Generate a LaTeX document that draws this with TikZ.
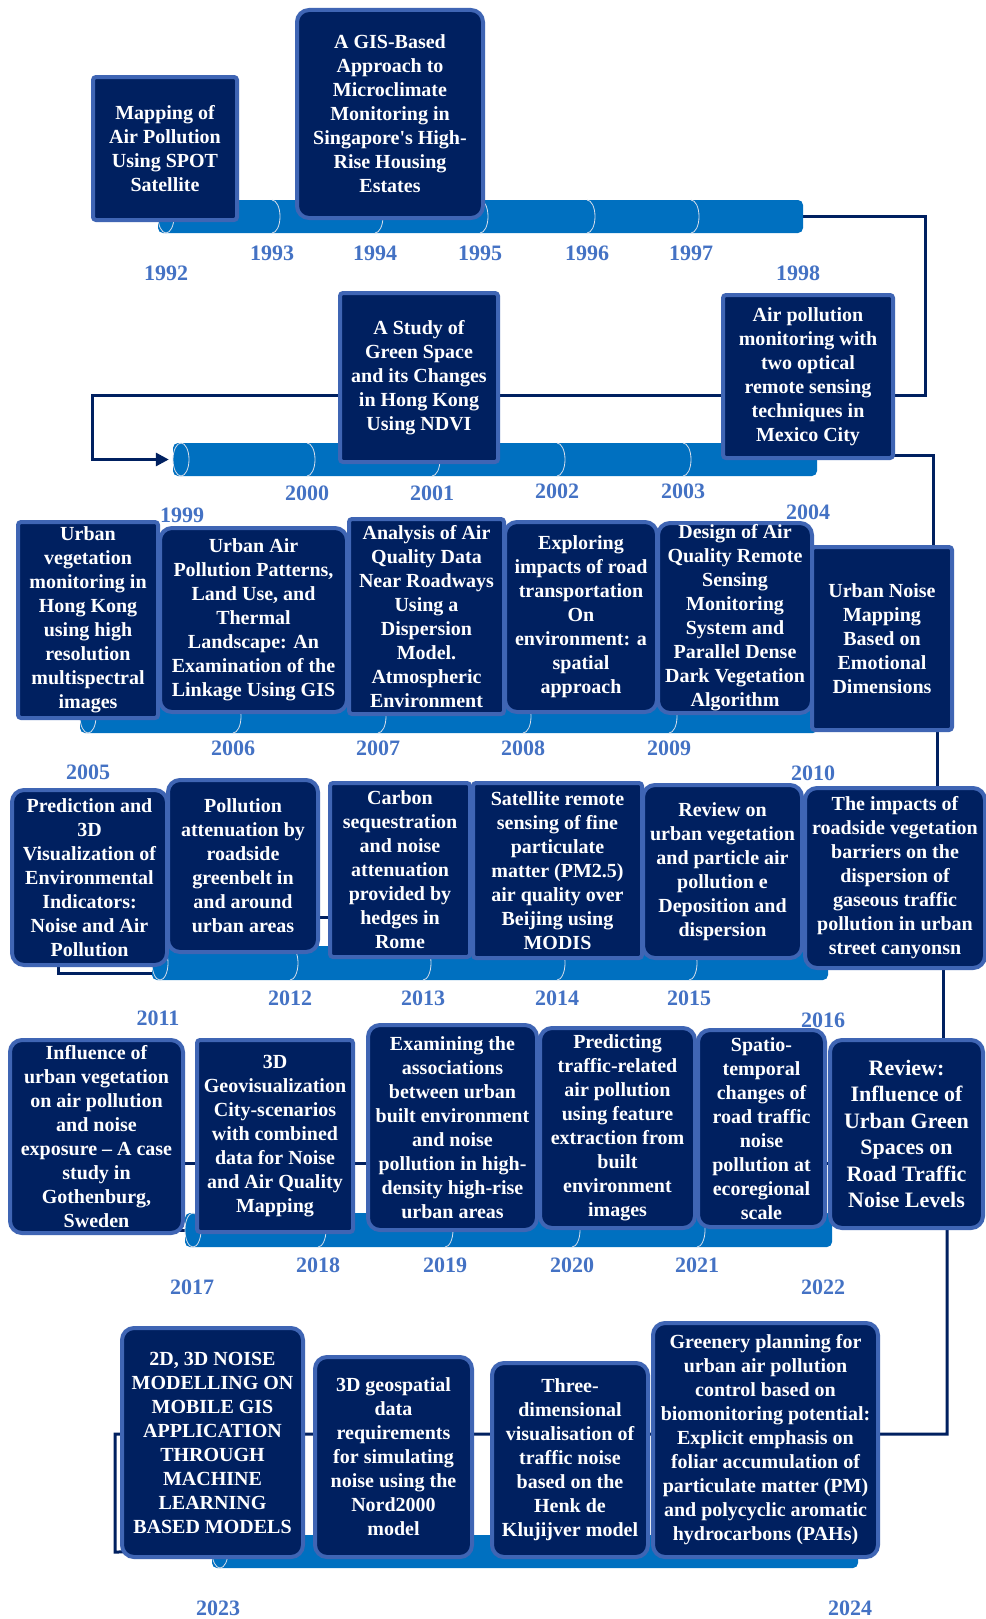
\documentclass[tikz,border=0pt]{standalone}
\usepackage{fontspec}
\setmainfont{Liberation Serif}
\usetikzlibrary{arrows.meta,backgrounds,calc}

\definecolor{navy}{RGB}{0,32,96}
\definecolor{cardedge}{RGB}{63,101,180}
\definecolor{barblue}{RGB}{0,112,192}
\definecolor{yearblue}{RGB}{68,114,196}
\definecolor{seamgray}{RGB}{215,222,235}

\begin{document}
\begin{tikzpicture}[x=1pt, y=-1pt,
		card/.style={draw=cardedge, fill=navy, line width=4pt, rounded corners=3pt, inner sep=0pt, align=center, text=white, font=\fontsize{20}{24}\selectfont\bfseries},
		soft/.style={rounded corners=12pt},
		yr/.style={text=yearblue, font=\fontsize{22}{26}\selectfont\bfseries},
		timebar/.style={fill=barblue, rounded corners=5pt, inner sep=0pt},
		seam/.style={draw=seamgray, line width=0.8pt},
		linkline/.style={draw=navy, line width=3pt}]
		\useasboundingbox (0,0) rectangle (985,1619);

		% the six bars
		\node[timebar, minimum width=645pt, minimum height=33pt] (bar1) at (480.5,216.5) {};
		\node[timebar, minimum width=644pt, minimum height=33pt] (bar2) at (495,459.5) {};
		\node[timebar, minimum width=738pt, minimum height=33pt] (bar3) at (449,716.5) {};
		\node[timebar, minimum width=676pt, minimum height=34pt] (bar4) at (490,963) {};
		\node[timebar, minimum width=647pt, minimum height=34pt] (bar5) at (508.5,1230) {};
		\node[timebar, minimum width=646pt, minimum height=33pt] (bar6) at (535,1551.5) {};

		\draw[seam, fill=barblue] (166,216.5) ellipse [x radius=8, y radius=16.5];
		\draw[seam, fill=barblue] (181,459.5) ellipse [x radius=8, y radius=16.5];
		\draw[seam, fill=barblue] (88,716.5) ellipse [x radius=8, y radius=16.5];
		\draw[seam, fill=barblue] (160,963) ellipse [x radius=8, y radius=17];
		\draw[seam, fill=barblue] (193,1230) ellipse [x radius=8, y radius=17];
		\draw[seam, fill=barblue] (220,1551.5) ellipse [x radius=8, y radius=16.5];

		\foreach \x in {272,375,480,587,691}
			\draw[seam] (\x,200) arc[start angle=-90, end angle=90, x radius=8, y radius=16.5];
		\foreach \x in {307,432,557,683}
			\draw[seam] (\x,443) arc[start angle=-90, end angle=90, x radius=8, y radius=16.5];
		\foreach \x in {233,378,523,669}
			\draw[seam] (\x,700) arc[start angle=-90, end angle=90, x radius=8, y radius=16.5];
		\foreach \x in {290,423,557,689}
			\draw[seam] (\x,946) arc[start angle=-90, end angle=90, x radius=8, y radius=17];
		\foreach \x in {318,445,572,697}
			\draw[seam] (\x,1213) arc[start angle=-90, end angle=90, x radius=8, y radius=17];

		% row 1
		\node[card, minimum width=144pt, minimum height=143pt] (b1992) at (165,148.5) {Mapping of\\Air Pollution\\Using SPOT\\Satellite};
		\node[card, soft, minimum width=186pt, minimum height=208pt] (b1994) at (390,114) {A GIS-Based\\Approach to\\Microclimate\\Monitoring in\\Singapore\textquotesingle s High-\\Rise Housing\\Estates};

		% row 2
		\node[card, minimum width=158pt, minimum height=169pt] (b2001) at (419,377.5) {A Study of\\Green Space\\and its Changes\\in Hong Kong\\Using NDVI};
		\node[card, minimum width=170pt, minimum height=163pt] (b1998) at (808,376.5) {Air pollution\\monitoring with\\two optical\\remote sensing\\techniques in\\Mexico City};

		% row 3
		\node[card, minimum width=140pt, minimum height=196pt] (b2005) at (88,620) {Urban\\vegetation\\monitoring in\\Hong Kong\\using high\\resolution\\multispectral\\images};
		\node[card, soft, minimum width=187pt, minimum height=184pt] (b2006) at (253.5,620) {Urban Air\\Pollution Patterns,\\Land Use, and\\Thermal\\Landscape: An\\Examination of the\\Linkage Using GIS};
		\node[card, minimum width=155pt, minimum height=195pt] (b2007) at (426.5,616.5) {Analysis of Air\\Quality Data\\Near Roadways\\Using a\\Dispersion\\Model.\\Atmospheric\\Environment};
		\node[card, soft, minimum width=152pt, minimum height=190pt] (b2008) at (581,617) {Exploring\\impacts of road\\transportation\\On\\environment: a\\spatial\\approach};
		\node[card, soft, minimum width=154pt, minimum height=190pt] (b2009) at (735,618) {Design of Air\\Quality Remote\\Sensing\\Monitoring\\System and\\Parallel Dense\\Dark Vegetation\\Algorithm};
		\node[card, minimum width=140pt, minimum height=183pt] (b2010) at (882,638.5) {Urban Noise\\Mapping\\Based on\\Emotional\\Dimensions};

		% row 4
		\node[card, soft, minimum width=155pt, minimum height=175pt] (b2011) at (89.5,877.5) {Prediction and\\3D\\Visualization of\\Environmental\\Indicators:\\Noise and Air\\Pollution};
		\node[card, soft, minimum width=150pt, minimum height=172pt] (b2012) at (243,866) {Pollution\\attenuation by\\roadside\\greenbelt in\\and around\\urban areas};
		\node[card, minimum width=140pt, minimum height=174pt] (b2013) at (400,870) {Carbon\\sequestration\\and noise\\attenuation\\provided by\\hedges in\\Rome};
		\node[card, minimum width=169pt, minimum height=175pt] (b2014) at (557.5,870.5) {Satellite remote\\sensing of fine\\particulate\\matter (PM2.5)\\air quality over\\Beijing using\\MODIS};
		\node[card, soft, minimum width=159pt, minimum height=173pt] (b2015) at (722.5,871.5) {Review on\\urban vegetation\\and particle air\\pollution e\\Deposition and\\dispersion};
		\node[card, soft, minimum width=180pt, minimum height=180pt] (b2016) at (895,878) {The impacts of\\roadside vegetation\\barriers on the\\dispersion of\\gaseous traffic\\pollution in urban\\street canyonsn};

		% row 5
		\node[card, soft, minimum width=173pt, minimum height=193pt] (b2017) at (96.5,1136.5) {Influence of\\urban vegetation\\on air pollution\\and noise\\exposure -- A case\\study in\\Gothenburg,\\Sweden};
		\node[card, minimum width=156pt, minimum height=192pt] (b2018) at (275,1136) {3D\\Geovisualization\\City-scenarios\\with combined\\data for Noise\\and Air Quality\\Mapping};
		\node[card, soft, minimum width=169pt, minimum height=205pt] (b2019) at (452.5,1127.5) {Examining the\\associations\\between urban\\built environment\\and noise\\pollution in high-\\density high-rise\\urban areas};
		\node[card, soft, minimum width=155pt, minimum height=200pt] (b2020) at (617.5,1128) {Predicting\\traffic-related\\air pollution\\using feature\\extraction from\\built\\environment\\images};
		\node[card, soft, minimum width=127pt, minimum height=197pt] (b2021) at (761.5,1128.5) {Spatio-\\temporal\\changes of\\road traffic\\noise\\pollution at\\ecoregional\\scale};
		\node[card, soft, minimum width=153pt, minimum height=188pt, font=\fontsize{22}{26.5}\selectfont\bfseries] (b2022) at (906.5,1134) {Review:\\Influence of\\Urban Green\\Spaces on\\Road Traffic\\Noise Levels};

		% row 6
		\node[card, soft, minimum width=181pt, minimum height=229pt] (b2023) at (212.5,1442.5) {2D, 3D NOISE\\MODELLING ON\\MOBILE GIS\\APPLICATION\\THROUGH\\MACHINE\\LEARNING\\BASED MODELS};
		\node[card, soft, minimum width=157pt, minimum height=200pt] (b2023b) at (393.5,1457) {3D geospatial\\data\\requirements\\for simulating\\noise using the\\Nord2000\\model};
		\node[card, soft, minimum width=156pt, minimum height=194pt] (b2024b) at (570,1460) {Three-\\dimensional\\visualisation of\\traffic noise\\based on the\\Henk de\\Klujijver model};
		\node[card, soft, minimum width=225pt, minimum height=234pt] (b2024) at (765.5,1440) {Greenery planning for\\urban air pollution\\control based on\\biomonitoring potential:\\Explicit emphasis on\\foliar accumulation of\\particulate matter (PM)\\and polycyclic aromatic\\hydrocarbons (PAHs)};

		% years
		\node[yr] (y1992) at (166,273) {1992};
		\node[yr] (y1993) at (272,253) {1993};
		\node[yr] (y1994) at (375,253) {1994};
		\node[yr] (y1995) at (480,253) {1995};
		\node[yr] (y1996) at (587,253) {1996};
		\node[yr] (y1997) at (691,253) {1997};
		\node[yr] (y1998) at (798,273) {1998};
		\node[yr] (y1999) at (182,515) {1999};
		\node[yr] (y2000) at (307,493) {2000};
		\node[yr] (y2001) at (432,493) {2001};
		\node[yr] (y2002) at (557,491) {2002};
		\node[yr] (y2003) at (683,491) {2003};
		\node[yr] (y2004) at (808,512) {2004};
		\node[yr] (y2005) at (88,772) {2005};
		\node[yr] (y2006) at (233,748) {2006};
		\node[yr] (y2007) at (378,748) {2007};
		\node[yr] (y2008) at (523,748) {2008};
		\node[yr] (y2009) at (669,748) {2009};
		\node[yr] (y2010) at (813,773) {2010};
		\node[yr] (y2011) at (158,1018) {2011};
		\node[yr] (y2012) at (290,998) {2012};
		\node[yr] (y2013) at (423,998) {2013};
		\node[yr] (y2014) at (557,998) {2014};
		\node[yr] (y2015) at (689,998) {2015};
		\node[yr] (y2016) at (823,1020) {2016};
		\node[yr] (y2017) at (192,1287) {2017};
		\node[yr] (y2018) at (318,1265) {2018};
		\node[yr] (y2019) at (445,1265) {2019};
		\node[yr] (y2020) at (572,1265) {2020};
		\node[yr] (y2021) at (697,1265) {2021};
		\node[yr] (y2022) at (823,1287) {2022};
		\node[yr] (y2023) at (218,1608) {2023};
		\node[yr] (y2024) at (850,1608) {2024};

		% links between rows, behind everything
		\begin{scope}[on background layer]
			\fill[white] (0,0) rectangle (985,1619);
			\draw[linkline, -{Triangle[length=13pt, width=13pt]}, shorten >=4pt] (bar1.east) -| (925,395) -| (92,459.5) -- (bar2.west);
			\draw[linkline] ($(bar2.east)+(0,-4)$) -| (933,663) -| (60,716.5) -- (bar3.west);
			\draw[linkline] (bar3.east) -| (937,917) -| (58,973) -- ($(bar4.west)+(0,10)$);
			\draw[linkline] (bar4.east) -| (943,1163) -| (60,1230) -- (bar5.west);
			\draw[linkline] ($(bar5.east)+(0,-8)$) -| (947,1434) -| (115,1552) -- (bar6.west);
		\end{scope}
	\end{tikzpicture}
\end{document}
